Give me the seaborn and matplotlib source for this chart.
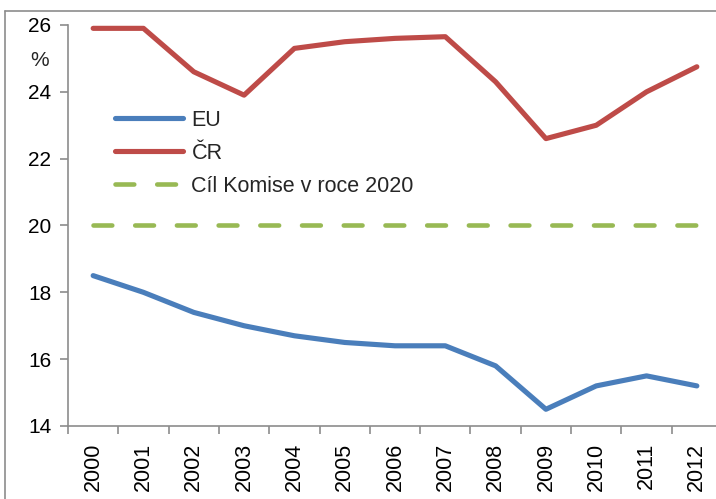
import matplotlib
matplotlib.use("Agg")
import matplotlib.pyplot as plt
import seaborn as sns
import pandas as pd
from matplotlib.lines import Line2D

years = ["2000", "2001", "2002", "2003", "2004", "2005", "2006",
         "2007", "2008", "2009", "2010", "2011", "2012"]
eu = [18.5, 18.0, 17.4, 17.0, 16.7, 16.5, 16.4, 16.4, 15.8, 14.5, 15.2, 15.5, 15.2]
cr = [25.9, 25.9, 24.6, 23.9, 25.3, 25.5, 25.6, 25.65, 24.3, 22.6, 23.0, 24.0, 24.75]
target = [20] * len(years)
labels = ["EU", "ČR", "Cíl Komise v roce 2020"]
yticks = [14, 16, 18, 20, 22, 24, 26]

sns.set_theme(style="white")
plt.rcParams['font.family'] = ['Liberation Sans', 'DejaVu Sans']

W, H = 716, 499
fig = plt.figure(figsize=(W / 100, H / 100), dpi=100)
ax = fig.add_axes([68 / W, 1 - 426 / H, 654 / W, 401 / H])

df = pd.DataFrame({"year": years, "EU": eu, "CR": cr, "target": target})

sns.lineplot(data=df, x="year", y="EU", ax=ax, color="#4a7ebb", lw=3.7,
             solid_capstyle="round", label=labels[0])
sns.lineplot(data=df, x="year", y="CR", ax=ax, color="#be4b48", lw=3.7,
             solid_capstyle="round", label=labels[1])
sns.lineplot(data=df, x="year", y="target", ax=ax, color="#98b954", lw=3.3,
             linestyle=(0, (4.1, 5.0)), dash_capstyle="round", label=labels[2])

ax.set_xlim(-0.5, len(years) - 0.5)
ax.set_ylim(14, 26)
ax.set_yticks(yticks)
ax.set_yticklabels([str(v) for v in yticks], fontsize=15, color="black")
ax.set_xticks(range(len(years)))
ax.set_xticklabels(years, rotation=90, fontsize=15.5, color="black")
ax.set_xticks([i - 0.5 for i in range(len(years) + 1)], minor=True)
ax.tick_params(axis="x", which="major", length=0, pad=12)
ax.tick_params(axis="x", which="minor", length=6, width=1.2, color="#8c8c8c", bottom=True)
ax.tick_params(axis="y", length=6, width=1.2, color="#8c8c8c", left=True, pad=6)
ax.set_xlabel("")
ax.set_ylabel("")
for s in ["top", "right"]:
    ax.spines[s].set_visible(False)
for s in ["left", "bottom"]:
    ax.spines[s].set_color("#8c8c8c")
    ax.spines[s].set_linewidth(1.2)
ax.grid(False)

fig.text(40 / W, 1 - 61 / H, "%", fontsize=15, ha="center", va="center")

leg = ax.legend(loc="upper left", bbox_to_anchor=(115 / W, 1 - 110 / H),
                bbox_transform=fig.transFigure, frameon=False, fontsize=15.5,
                handlelength=3.15, handletextpad=0.4, labelspacing=0.55,
                borderpad=0, borderaxespad=0)
for h in leg.get_lines():
    h.set_solid_capstyle("round")
    h.set_dash_capstyle("round")

# outer chart frame
fig.add_artist(Line2D([5 / W, 5 / W], [0, 1 - 11 / H], transform=fig.transFigure,
                      color="#8c8c8c", lw=1.2))
fig.add_artist(Line2D([5 / W, 1], [1 - 11 / H, 1 - 11 / H], transform=fig.transFigure,
                      color="#8c8c8c", lw=1.2))

fig.savefig("out.png", dpi=100)
